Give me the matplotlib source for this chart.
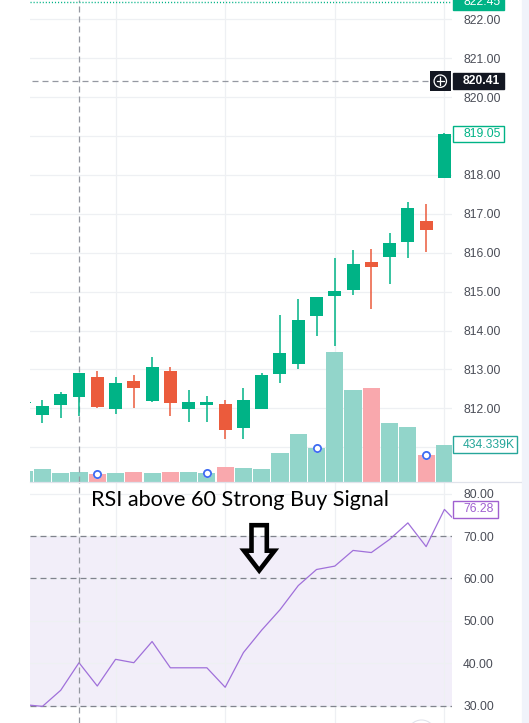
import matplotlib
matplotlib.use("Agg")
import matplotlib.pyplot as plt
from matplotlib.patches import Rectangle, Circle, Polygon
from matplotlib.lines import Line2D
from matplotlib.transforms import IdentityTransform
import numpy as np

# ---------------- data ----------------
candle_idx = list(range(24))
opens = [812.13, 811.84, 812.09, 812.30, 812.81, 811.99, 812.70, 812.19, 812.96, 811.99, 812.09, 812.11,
         811.50, 811.99, 812.89, 813.15, 814.37, 814.90, 815.04, 815.76, 815.90, 816.28, 816.82, 817.93]
closes = [812.17, 812.06, 812.37, 812.91, 812.04, 812.65, 812.53, 813.06, 812.14, 812.16, 812.16, 811.45,
          812.21, 812.86, 813.42, 814.27, 814.86, 815.02, 815.71, 815.64, 816.25, 817.14, 816.58, 819.05]
highs = [812.22, 812.21, 812.42, 812.92, 812.96, 812.81, 812.86, 813.32, 813.06, 812.47, 812.32, 812.21,
         812.52, 812.91, 814.40, 814.81, 814.86, 815.86, 816.07, 816.09, 816.50, 817.30, 817.26, 819.09]
lows = [812.05, 811.63, 811.76, 811.81, 812.02, 811.86, 812.02, 812.16, 811.81, 811.66, 811.66, 811.21,
        811.21, 811.99, 812.65, 813.01, 813.87, 813.61, 814.91, 814.55, 815.20, 815.87, 816.03, 817.93]
volumes_k = [127, 158, 112, 123, 100, 112, 123, 112, 123, 123, 112, 181,
             169, 158, 342, 561, 396, 1507, 1069, 1092, 688, 642, 319, 434.339]
rsi_idx = list(range(25))
rsi_vals = [30.2, 29.8, 33.6, 40.1, 34.6, 40.9, 40.1, 45.1, 38.9, 38.9, 38.9, 34.3,
            42.5, 47.8, 52.6, 58.3, 62.1, 62.9, 66.6, 66.1, 69.2, 73.1, 67.5, 76.28, 71.8]
event_idx = [4, 10, 16, 22]

price_ticks = [812, 813, 814, 815, 816, 817, 818, 820, 821, 822]
price_grid = [811, 812, 813, 814, 815, 816, 817, 818, 819, 820, 821, 822]
rsi_ticks = [80, 70, 60, 50, 40, 30]
rsi_dashed = [70, 60, 30]
grid_candles = [5, 11, 17, 23]
cross_idx = 3
cross_price = 820.41
high_line = 822.45
last_price = 819.05
last_vol = 434.339
last_rsi = 76.28
annotation = "RSI above 60 Strong Buy Signal"

# ---------------- style ----------------
UP = "#00B386"
DN = "#EB5B3C"
VUP = "#92D5CA"
VDN = "#F9A8AD"
GRID = "#EEF0F3"
CROSS = "#9598A1"
TXT = "#4A4D57"
RSI_C = "#A070DA"
RSI_FILL = "#F2EEF9"
FONT = "Liberation Sans"
FS = 8.7

W, H, DPI = 529, 723, 100
fig = plt.figure(figsize=(W / DPI, H / DPI), dpi=DPI, facecolor="white")

L, R, SEP = 29.5, 452.0, 482.3


def rect_px(x0, ytop, x1, ybot):
    return [x0 / W, 1 - ybot / H, (x1 - x0) / W, (ybot - ytop) / H]


main_rect = rect_px(L, 0, R, SEP)
rsi_rect = rect_px(L, SEP, R, H)
XL = (0.29, 23.415)

ax_bg = fig.add_axes(main_rect, zorder=0)
ax_v = fig.add_axes(main_rect, zorder=1, sharex=ax_bg)
ax_p = fig.add_axes(main_rect, zorder=2, sharex=ax_bg)
ax_r = fig.add_axes(rsi_rect, zorder=0, sharex=ax_bg)

for a in (ax_bg, ax_v, ax_p, ax_r):
    for s in a.spines.values():
        s.set_visible(False)
    a.tick_params(axis="x", length=0, labelbottom=False)
ax_v.patch.set_visible(False)
ax_p.patch.set_visible(False)
ax_bg.set_yticks([])
ax_v.set_yticks([])

ax_bg.set_xlim(*XL)
ax_bg.set_ylim(810.10, 822.496)
ax_p.set_ylim(810.10, 822.496)
ax_v.set_ylim(0, 5557)
ax_r.set_ylim(25.87, 82.68)

# grid
for p in price_grid:
    ax_bg.axhline(p, color=GRID, lw=0.9)
for g in grid_candles:
    ax_bg.axvline(g, color=GRID, lw=0.9)
    ax_r.axvline(g, color=GRID, lw=0.9, zorder=1)

# volume
vcol = [VUP if c >= o else VDN for o, c in zip(opens, closes)]
ax_v.bar(candle_idx, volumes_k, width=0.94, color=vcol, lw=0, zorder=1)
ax_v.plot(event_idx, [volumes_k[i] for i in event_idx], ls="none", marker="o", ms=6.5,
          mfc="white", mec="white", mew=0, zorder=3)
ax_v.plot(event_idx, [volumes_k[i] for i in event_idx], ls="none", marker="o", ms=5.2,
          mfc="white", mec="#3E6BF2", mew=1.3, zorder=4)

# crosshair
ax_p.axvline(cross_idx, color=CROSS, lw=0.9, ls=(0, (4.8, 3.2)), zorder=1)
ax_r.axvline(cross_idx, color=CROSS, lw=0.9, ls=(0, (4.8, 3.2)), zorder=5)
ax_p.axhline(cross_price, xmin=0.006, xmax=0.948, color=CROSS, lw=0.9, ls=(0, (4.8, 3.2)), zorder=1)
ax_p.axhline(high_line, color=UP, lw=1.0, ls=(0, (0.8, 1.4)), zorder=1)

# candles
ccol = [UP if c >= o else DN for o, c in zip(opens, closes)]
ax_p.vlines(candle_idx, lows, highs, colors=ccol, lw=1.1, zorder=3)
bottoms = np.minimum(opens, closes)
heights = np.maximum(np.abs(np.array(closes) - np.array(opens)), 0.03)
ax_p.bar(candle_idx, heights, bottom=bottoms, width=0.71, color=ccol, lw=0, zorder=4)

# price ticks
ax_p.yaxis.tick_right()
ax_p.set_yticks(price_ticks)
ax_p.set_yticklabels([f"{t:.2f}" for t in price_ticks])
ax_p.tick_params(axis="y", length=0, pad=8.0, labelsize=FS, labelcolor=TXT)
for lab in ax_p.get_yticklabels():
    lab.set_fontfamily(FONT)

# RSI pane
ax_r.axhspan(30, 70, color=RSI_FILL, lw=0, zorder=0)
for t in rsi_ticks:
    ax_r.axhline(t, color=GRID, lw=0.9, zorder=1)
for t in rsi_dashed:
    ax_r.axhline(t, color="#80838D", lw=0.9, ls=(0, (4.8, 3.2)), zorder=2)
ax_r.plot(rsi_idx, rsi_vals, color=RSI_C, lw=0.9, zorder=4)
ax_r.yaxis.tick_right()
ax_r.set_yticks(rsi_ticks)
ax_r.set_yticklabels([f"{t:.2f}" for t in rsi_ticks])
ax_r.tick_params(axis="y", length=0, pad=8.0, labelsize=FS, labelcolor=TXT)
for lab in ax_r.get_yticklabels():
    lab.set_fontfamily(FONT)

ident = IdentityTransform()


def add_rect(x0, y0, w, h, **kw):
    r = Rectangle((x0, y0), w, h, transform=ident, **kw)
    fig.patches.append(r)
    return r


def label_box(ax, value, text, x1, fc, ec, tc, bold=False):
    y = ax.transData.transform((0, value))[1]
    add_rect(452.5, y - 8.3, x1 - 452.5, 16.6, fc=fc, ec=ec, lw=1.0, zorder=6)
    fig.text(463 / W, y / H, text, color=tc, fontsize=FS, family=FONT, va="center", ha="left",
             fontweight="bold" if bold else "normal", zorder=7)
    return y


# right grey strip and pane separator
add_rect(522, 0, 7, H, fc="#F0F3FA", ec="none", zorder=4)
fig.lines.append(Line2D([522, 522], [0, H], transform=ident, color="#D8DBE2", lw=0.8, zorder=4))
fig.lines.append(Line2D([L, 522], [H - SEP, H - SEP], transform=ident, color="#E0E3EB", lw=0.9, zorder=4))

label_box(ax_p, high_line, f"{high_line:.2f}", 504, UP, UP, "white")
yc = label_box(ax_p, cross_price, f"{cross_price:.2f}", 503.5, "#131722", "#131722", "white", bold=True)
label_box(ax_p, last_price, f"{last_price:.2f}", 503.5, "white", UP, UP)
label_box(ax_v, last_vol, f"{last_vol:.3f}K", 517, "white", "#26A69A", "#26A69A")
label_box(ax_r, last_rsi, f"{last_rsi:.2f}", 497.5, "white", "#A060D0", "#A060D0")

# plus button next to the crosshair label
add_rect(430, yc - 10.2, 20.5, 20.4, fc="#131722", ec="none", zorder=6)
fig.patches.append(Circle((440.3, yc), 6.2, transform=ident, fc="none", ec="white", lw=0.9, zorder=7))
fig.lines.append(Line2D([436.6, 444.0], [yc, yc], transform=ident, color="white", lw=0.9, zorder=8))
fig.lines.append(Line2D([440.3, 440.3], [yc - 3.7, yc + 3.7], transform=ident, color="white", lw=0.9, zorder=8))

# partly visible round button at bottom
fig.patches.append(Circle((421.5, H - 734), 14, transform=ident, fc="white", ec="#E0E3EB", lw=0.8, zorder=6))

# annotation text and hollow arrow
fig.text(91.2 / W, 1 - 505.7 / H, annotation, fontsize=15.6, family=["Lato", "DejaVu Sans"],
         color="black", va="baseline", ha="left", zorder=8)
arrow_px = [(251.5, 525.2), (266.8, 525.2), (266.8, 550.7), (274.5, 550.7), (259.2, 570.5),
            (244.0, 550.7), (251.5, 550.7)]
fig.patches.append(Polygon([(x, H - y) for x, y in arrow_px], closed=True, transform=ident,
                           fc="none", ec="black", lw=3.3, joinstyle="miter", zorder=8))

fig.savefig("out.png", dpi=DPI, facecolor="white")
